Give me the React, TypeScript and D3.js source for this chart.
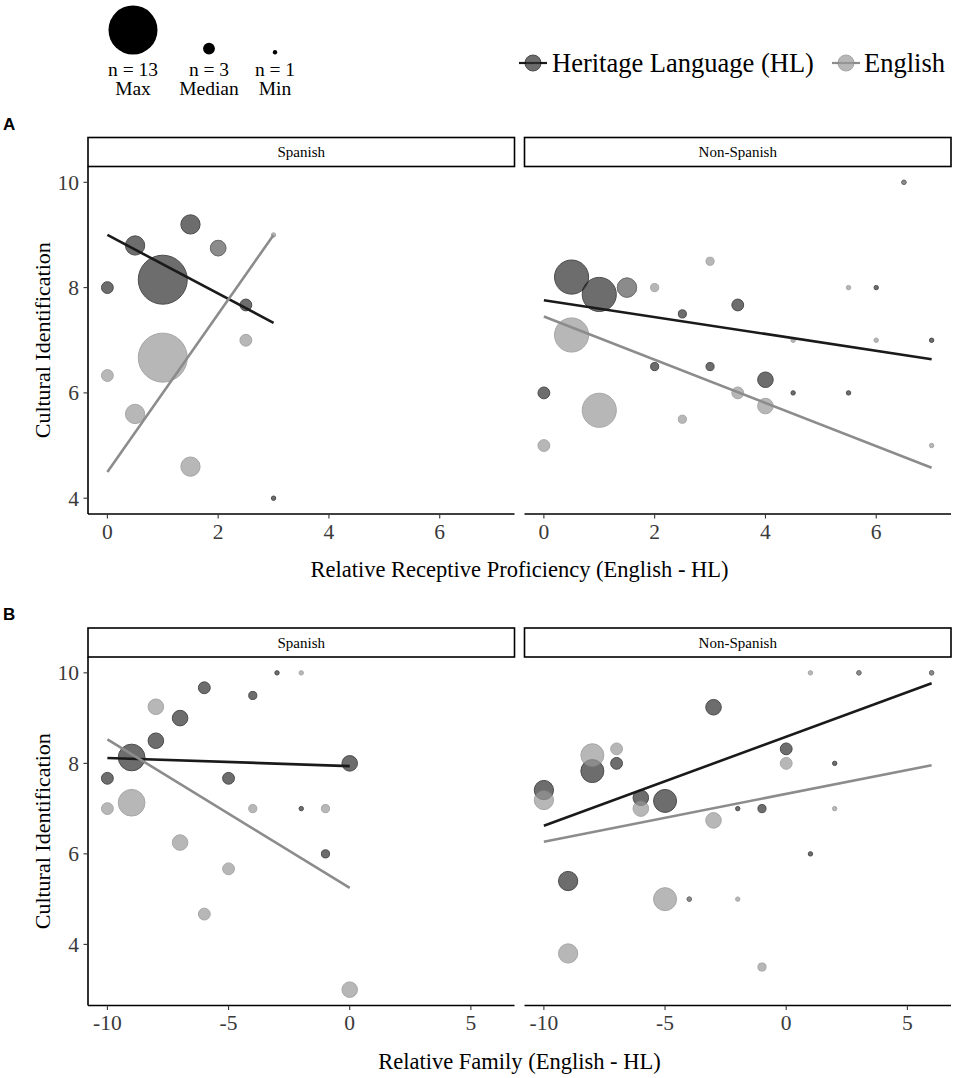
import * as d3 from 'd3'

// [x, y, n] per point
const profSpanishHL = [[0, 8, 3], [0.5, 8.8, 5], [1, 8.15, 13], [1.5, 9.2, 5], [2, 8.75, 4], [2.5, 7.67, 3], [3, 4, 1]]
const profSpanishEN = [[0, 6.33, 3], [0.5, 5.6, 5], [1, 6.67, 13], [1.5, 4.6, 5], [2, 8.75, 4], [2.5, 7, 3], [3, 9, 1]]
const profOtherHL = [[0, 6, 3], [0.5, 8.2, 9], [1, 7.87, 9], [1.5, 8, 5], [2, 6.5, 2], [2.5, 7.5, 2], [3, 6.5, 2], [3.5, 7.67, 3], [4, 6.25, 4], [4.5, 6, 1], [5.5, 6, 1], [6, 8, 1], [6.5, 10, 1], [7, 7, 1]]
const profOtherEN = [[0, 5, 3], [0.5, 7.1, 9], [1, 5.67, 9], [1.5, 8, 5], [2, 8, 2], [2.5, 5.5, 2], [3, 8.5, 2], [3.5, 6, 3], [4, 5.75, 4], [4.5, 7, 1], [5.5, 8, 1], [6, 7, 1], [6.5, 10, 1], [7, 5, 1]]

const famSpanishHL = [[-10, 7.67, 3], [-9, 8.13, 7], [-8, 8.5, 4], [-7, 9, 4], [-6, 9.67, 3], [-5, 7.67, 3], [-4, 9.5, 2], [-3, 10, 1], [-2, 7, 1], [-1, 6, 2], [0, 8, 4]]
const famSpanishEN = [[-10, 7, 3], [-9, 7.13, 7], [-8, 9.25, 4], [-7, 6.25, 4], [-6, 4.67, 3], [-5, 5.67, 3], [-4, 7, 2], [-2, 10, 1], [-1, 7, 2], [0, 3, 4]]
const famOtherHL = [[-10, 7.41, 5], [-9, 5.4, 5], [-8, 7.83, 6], [-7, 8, 3], [-6, 7.24, 4], [-5, 7.17, 6], [-4, 5, 1], [-3, 9.24, 4], [-2, 7, 1], [-1, 7, 2], [0, 8.32, 3], [1, 6, 1], [2, 8, 1], [3, 10, 1], [6, 10, 1]]
const famOtherEN = [[-10, 7.19, 5], [-9, 3.8, 5], [-8, 8.18, 6], [-7, 8.32, 3], [-6, 7, 4], [-5, 5, 6], [-4, 5, 1], [-3, 6.74, 4], [-2, 5, 1], [-1, 3.5, 2], [0, 8, 3], [1, 10, 1], [2, 7, 1], [3, 10, 1], [6, 10, 1]]

// fitted lines (start, end)
const profSpanishHLFit = [[0, 9], [3, 7.33]]
const profSpanishENFit = [[0, 4.5], [3, 9]]
const profOtherHLFit = [[0, 7.76], [7, 6.64]]
const profOtherENFit = [[0, 7.45], [7, 4.58]]
const famSpanishHLFit = [[-10, 8.12], [0, 7.94]]
const famSpanishENFit = [[-10, 8.53], [0, 5.25]]
const famOtherHLFit = [[-10, 6.62], [6, 9.77]]
const famOtherENFit = [[-10, 6.27], [6, 7.96]]

const facetLabels = ['Spanish', 'Non-Spanish']
const seriesLabels = ['Heritage Language (HL)', 'English']
const sizeLegendN = [13, 3, 1]
const sizeLegendLabels = ['Max', 'Median', 'Min']

const SERIF = "'Liberation Serif', 'Times New Roman', serif"
const HL_STYLE = { fill: '#303030', stroke: '#000000', line: '#1a1a1a' }
const EN_STYLE = { fill: '#999999', stroke: '#828282', line: '#8c8c8c' }

const rScale = d3.scaleLinear().domain([1, 13]).range([2.2, 24.5])
const panelXs: [number, number][] = [[88, 514.5], [524.5, 951]]

type Pt = number[]

function Points({ data, x, y, style }: { data: Pt[]; x: any; y: any; style: any }) {
  return (
    <g>
      {data.map((d, i) => (
        <circle key={i} cx={x(d[0])} cy={y(d[1])} r={rScale(d[2])}
          fill={style.fill} stroke={style.stroke} strokeWidth={1} opacity={0.7} />
      ))}
    </g>
  )
}

function Fit({ data, x, y, color }: { data: Pt[]; x: any; y: any; color: string }) {
  const line = d3.line<Pt>().x(d => x(d[0])).y(d => y(d[1]))
  return <path d={line(data) || ''} fill="none" stroke={color} strokeWidth={2.6} />
}

function Row({ label, top, bottom, xDomain, yDomain, panels, xTitle }: any) {
  const stripTop = top - 29
  const y = d3.scaleLinear().domain(yDomain).range([bottom, top])
  const yTicks = y.ticks(4)
  return (
    <g>
      <text x={3} y={stripTop - 8} fontFamily="'Liberation Sans', Arial, sans-serif" fontWeight="bold" fontSize={17}>{label}</text>
      {panels.map((p: any, i: number) => {
        const [x0, x1] = panelXs[i]
        const x = d3.scaleLinear().domain(xDomain).range([x0, x1])
        return (
          <g key={i}>
            <rect x={x0} y={stripTop} width={x1 - x0} height={29} fill="#fff" stroke="#000" strokeWidth={1.6} />
            <text x={(x0 + x1) / 2} y={stripTop + 19.5} textAnchor="middle" fontFamily={SERIF} fontSize={15}>{facetLabels[i]}</text>
            <Points data={p.hl} x={x} y={y} style={HL_STYLE} />
            <Points data={p.en} x={x} y={y} style={EN_STYLE} />
            <Fit data={p.hlFit} x={x} y={y} color={HL_STYLE.line} />
            <Fit data={p.enFit} x={x} y={y} color={EN_STYLE.line} />
            <line x1={x0} x2={x1} y1={bottom} y2={bottom} stroke="#000" strokeWidth={1.6} />
            {x.ticks(4).map(t => (
              <g key={t}>
                <line x1={x(t)} x2={x(t)} y1={bottom} y2={bottom + 4.5} stroke="#333" strokeWidth={1.1} />
                <text x={x(t)} y={bottom + 24.5} textAnchor="middle" fontFamily={SERIF} fontSize={21.5} fill="#3a3a3a">{t}</text>
              </g>
            ))}
          </g>
        )
      })}
      <line x1={panelXs[0][0]} x2={panelXs[0][0]} y1={top} y2={bottom} stroke="#000" strokeWidth={1.6} />
      {yTicks.map(t => (
        <g key={t}>
          <line x1={panelXs[0][0] - 4.5} x2={panelXs[0][0]} y1={y(t)} y2={y(t)} stroke="#333" strokeWidth={1.1} />
          <text x={79} y={y(t)} dy="0.35em" textAnchor="end" fontFamily={SERIF} fontSize={21.5} fill="#3a3a3a">{t}</text>
        </g>
      ))}
      <text transform={`translate(50,${(top + bottom) / 2}) rotate(-90)`} textAnchor="middle" fontFamily={SERIF} fontSize={22}>Cultural Identification</text>
      <text x={(panelXs[0][0] + panelXs[1][1]) / 2} y={bottom + 63} textAnchor="middle" fontFamily={SERIF} fontSize={22.5}>{xTitle}</text>
    </g>
  )
}

export default function App() {
  const legendXs = [133, 209, 275]
  const keyXs = [533, 846]
  const keyTextXs = [552, 864]
  const keyStyles = [HL_STYLE, EN_STYLE]
  return (
    <svg width={957} height={1078} style={{ position: 'absolute', left: 0, top: 0, background: '#fff' }}>
      <rect width={957} height={1078} fill="#fff" />
      {/* size legend */}
      {sizeLegendN.map((n, i) => (
        <g key={n}>
          <circle cx={legendXs[i]} cy={54.5 - rScale(n)} r={rScale(n)} fill="#000" />
          <text x={legendXs[i]} y={76} textAnchor="middle" fontFamily={SERIF} fontSize={19.5}>{`n = ${n}`}</text>
          <text x={legendXs[i]} y={95} textAnchor="middle" fontFamily={SERIF} fontSize={19.5}>{sizeLegendLabels[i]}</text>
        </g>
      ))}
      {/* colour legend */}
      {seriesLabels.map((s, i) => (
        <g key={s}>
          <line x1={keyXs[i] - 14} x2={keyXs[i] + 14} y1={63} y2={63} stroke={keyStyles[i].line} strokeWidth={2.2} />
          <circle cx={keyXs[i]} cy={63} r={8} fill={keyStyles[i].fill} stroke={keyStyles[i].stroke} opacity={0.7} />
          <text x={keyTextXs[i]} y={72} fontFamily={SERIF} fontSize={26.5}>{s}</text>
        </g>
      ))}
      <Row label="A" top={166.5} bottom={514} xDomain={[-0.35, 7.35]} yDomain={[3.7, 10.3]}
        xTitle="Relative Receptive Proficiency (English - HL)"
        panels={[
          { hl: profSpanishHL, en: profSpanishEN, hlFit: profSpanishHLFit, enFit: profSpanishENFit },
          { hl: profOtherHL, en: profOtherEN, hlFit: profOtherHLFit, enFit: profOtherENFit }
        ]} />
      <Row label="B" top={657} bottom={1005.5} xDomain={[-10.8, 6.8]} yDomain={[2.65, 10.35]}
        xTitle="Relative Family (English - HL)"
        panels={[
          { hl: famSpanishHL, en: famSpanishEN, hlFit: famSpanishHLFit, enFit: famSpanishENFit },
          { hl: famOtherHL, en: famOtherEN, hlFit: famOtherHLFit, enFit: famOtherENFit }
        ]} />
    </svg>
  )
}
